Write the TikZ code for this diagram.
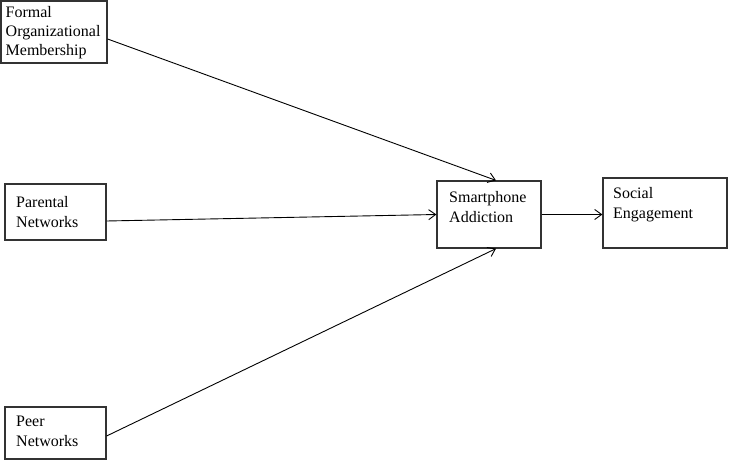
\documentclass[tikz,border=0pt]{standalone}
\usepackage{fontspec}
\setmainfont{Liberation Serif}
\usetikzlibrary{arrows.meta}
\begin{document}
\begin{tikzpicture}[x=1pt,y=-1pt,
  box/.style={draw=black!80, line width=1.2pt, rectangle, inner sep=0pt},
  lbl/.style={anchor=base west, inner sep=0pt, align=left, font=\fontsize{16}{20.5}\selectfont},
  conn/.style={line width=0.9pt, -{Straight Barb[length=7pt,width=10pt,line width=0.9pt]}}]
\useasboundingbox (0,0) rectangle (729,462);
% boxes
\node[box, minimum width=106pt, minimum height=62pt] (form) at (54,32) {};
\node[box, minimum width=101pt, minimum height=56pt] (par) at (55.5,212) {};
\node[box, minimum width=101pt, minimum height=52pt] (peer) at (55.5,433) {};
\node[box, minimum width=104pt, minimum height=67pt] (sa) at (489,214.5) {};
\node[box, minimum width=124pt, minimum height=70pt] (se) at (665,213) {};
% labels (anchored at the baseline of the last line)
\node[lbl, font=\fontsize{16}{19}\selectfont] (tform) at (5.5,55.5) {Formal\\Organizational\\Membership};
\node[lbl] (tpar) at (16,228) {Parental\\Networks};
\node[lbl] (tpeer) at (16,447) {Peer\\Networks};
\node[lbl, font=\fontsize{16}{20}\selectfont] (tsa) at (449,223) {Smartphone\\Addiction};
\node[lbl] (tse) at (613,219) {Social\\Engagement};
% connectors
\draw[conn] ([yshift=-7pt]form.east) -- ([xshift=7pt]sa.north);
\draw[conn] ([yshift=-9pt]par.east) -- (sa.west);
\draw[conn] ([yshift=-3pt]peer.east) -- ([xshift=7pt]sa.south);
\draw[conn] (sa.east) -- (sa.east -| se.west);
\end{tikzpicture}
\end{document}
